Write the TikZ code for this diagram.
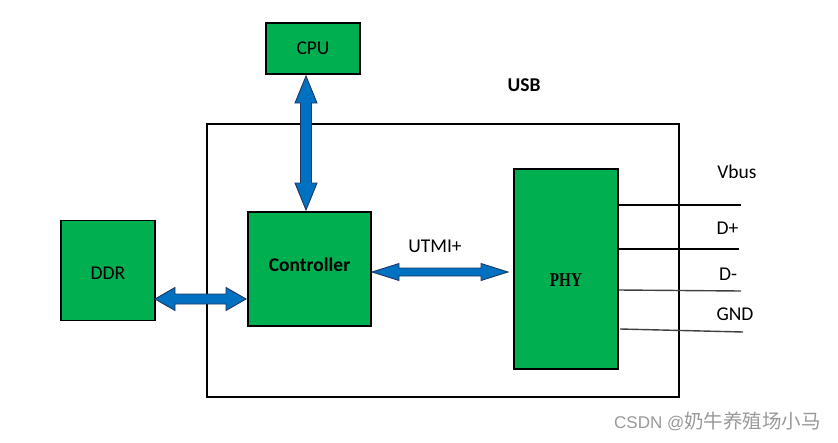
\documentclass[tikz,border=0pt]{standalone}
\usepackage{fontspec}
\setmainfont{Carlito}
\newfontfamily\phyfont{Liberation Serif}
\newfontfamily\wmfont{Liberation Sans}
\newfontfamily\cjkfont{Noto Sans CJK SC}
\usetikzlibrary{calc}
\definecolor{usbgreen}{HTML}{00B050}
\definecolor{busblue}{HTML}{0070C0}
\definecolor{busline}{HTML}{1F3864}
\definecolor{wiregray}{HTML}{404040}
\newcommand{\lbl}{\fontsize{19.5}{23}\selectfont}
\tikzset{
  box/.style={draw=black, line width=1.3pt, fill=usbgreen, inner sep=0pt, font=\lbl},
  frame/.style={draw=black, line width=1.4pt, inner sep=0pt},
  bus/.style={fill=busblue, draw=busline, line width=0.9pt},
  wire/.style={line width=1.4pt},
}
% double block arrow: from, to, head length, head half width, shaft half width
\newcommand{\busarrow}[5]{%
  \path let \p1=(#1), \p2=(#2) in \pgfextra{%
    \pgfmathsetmacro\busang{atan2(\y2-\y1,\x2-\x1)}\xdef\busang{\busang}%
    \pgfmathsetmacro\buslen{veclen(\x2-\x1,\y2-\y1)}\xdef\buslen{\buslen}};
  \draw[bus, shift={(#1)}, rotate=\busang]
    (0pt,0pt) -- (#3,#4) -- (#3,#5) -- (\buslen pt-#3,#5) -- (\buslen pt-#3,#4)
    -- (\buslen pt,0pt) -- (\buslen pt-#3,-#4) -- (\buslen pt-#3,-#5)
    -- (#3,-#5) -- (#3,-#4) -- cycle;
}

\begin{document}
\begin{tikzpicture}[x=1pt, y=-1pt]
\useasboundingbox (0,0) rectangle (838,442);
\node[frame, minimum width=472pt, minimum height=273pt] (usb) at (443,260.5) {};
\node[font=\lbl\bfseries] (usblbl) at (524,85) {USB};

\node[box, minimum width=94pt, minimum height=51pt] (cpu) at (313,48.5) {CPU};
\node[box, minimum width=94pt, minimum height=100pt, text height=17.5pt, text depth=0pt] (ddr) at (108,270.5) {DDR};
\node[box, minimum width=123pt, minimum height=114pt, text height=14pt, text depth=10pt, font=\lbl\bfseries] (ctrl) at (309.5,269) {Controller};
\node[box, minimum width=104pt, minimum height=200pt, text height=35pt, text depth=0pt] (phy) at (566,269) {\scalebox{0.78}[1]{\phyfont\bfseries PHY}};

\coordinate (cpuS) at (306,76);
\coordinate (ctrlN) at (306,210);
\coordinate (ddrE) at (155,299);
\coordinate (ctrlW) at (246,299);
\coordinate (ctrlE) at (372,272);
\coordinate (phyW) at (508,272);
\busarrow{cpuS}{ctrlN}{27pt}{11pt}{5.5pt}
\busarrow{ddrE}{ctrlW}{20pt}{11.5pt}{5pt}
\busarrow{ctrlE}{phyW}{27pt}{8.5pt}{4pt}
\node[font=\lbl] (utmi) at (435,246) {UTMI+};

\coordinate (vbusE) at (741,205);
\coordinate (dpE) at (739,249);
\coordinate (dmE) at (741,291);
\coordinate (gndE) at (743,332);
\draw[wire] (phy.east |- 0,205) -- (vbusE);
\draw[wire] (phy.east |- 0,249) -- (dpE);
\draw[wire, wiregray] (phy.east |- 0,290) -- (dmE);
\draw[wire, wiregray] (620,329) -- (gndE);
\node[font=\lbl] (vbus) at (737,172) {Vbus};
\node[font=\lbl] (dp) at (727.5,228) {D+};
\node[font=\lbl] (dm) at (728,274) {D-};
\node[font=\lbl] (gnd) at (735,314.5) {GND};

\node[text=black!40, inner sep=0pt] (mark) at (717.5,421.5) {\wmfont\fontsize{17}{20}\selectfont CSDN @\cjkfont\fontsize{19.5}{22}\selectfont 奶牛养殖场小马};
\end{tikzpicture}
\end{document}
